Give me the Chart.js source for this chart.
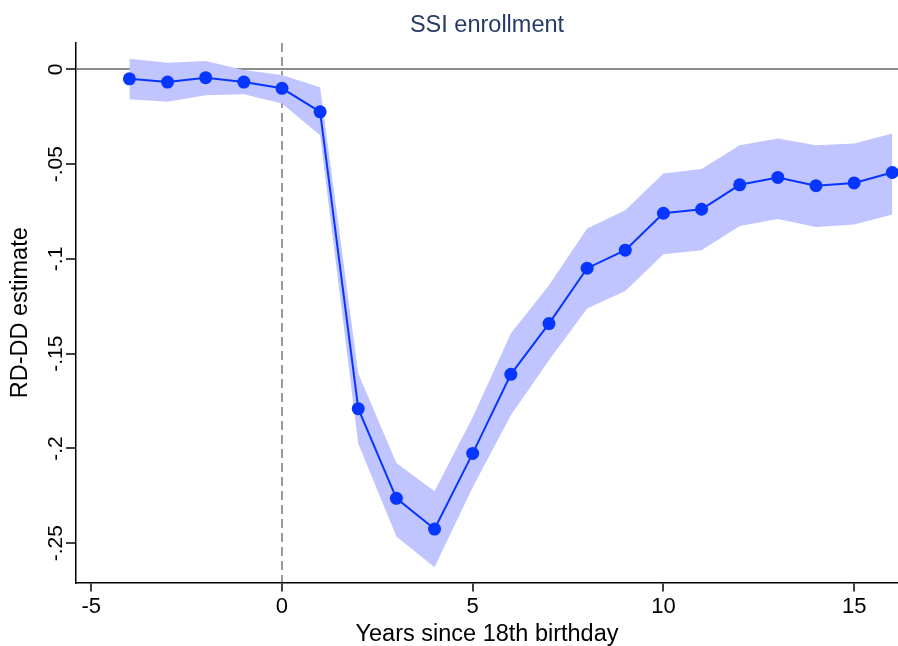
<!DOCTYPE html>
<html>
<head>
<meta charset="utf-8">
<title>SSI enrollment</title>
<script src="https://cdn.jsdelivr.net/npm/chart.js@4/dist/chart.umd.min.js"></script>
<style>
  html, body { margin: 0; padding: 0; background: #ffffff; }
  #wrap { width: 898px; height: 646px; }
</style>
</head>
<body>
<div id="wrap"><canvas id="chart" width="898" height="646"></canvas></div>
<script>
// Years relative to the 18th birthday
const years = [-4, -3, -2, -1, 0, 1, 2, 3, 4, 5, 6, 7, 8, 9, 10, 11, 12, 13, 14, 15, 16];

// RD-DD point estimates
const estimate = [-0.0050, -0.0067, -0.0044, -0.0067, -0.0100, -0.0224, -0.1790, -0.2263, -0.2425, -0.2026,
                  -0.1609, -0.1341, -0.1049, -0.0954, -0.0759, -0.0738, -0.0609, -0.0570, -0.0614, -0.0599, -0.0544];

// Confidence interval bounds
const ciUpper = [0.0056, 0.0035, 0.0044, -0.0004, -0.0030, -0.0095, -0.1605, -0.2077, -0.2225, -0.1835,
                 -0.1394, -0.1139, -0.0840, -0.0743, -0.0549, -0.0526, -0.0400, -0.0365, -0.0400, -0.0391, -0.0338];
const ciLower = [-0.0158, -0.0171, -0.0137, -0.0132, -0.0180, -0.0347, -0.1975, -0.2464, -0.2626, -0.2204,
                 -0.1825, -0.1535, -0.1262, -0.1169, -0.0975, -0.0954, -0.0827, -0.0789, -0.0831, -0.0818, -0.0766];

// Axis ticks
const xTickValues = [-5, 0, 5, 10, 15];
const xTickLabels = ['-5', '0', '5', '10', '15'];
const yTickValues = [0, -0.05, -0.1, -0.15, -0.2, -0.25];
const yTickLabels = ['0', '-.05', '-.1', '-.15', '-.2', '-.25'];

const FONT = "'Liberation Sans', Helvetica, Arial, sans-serif";
const LINE_BLUE = '#0636ff';
const BAND = '#c0c4ff';

const pts = (ys) => years.map((x, i) => ({ x: x, y: ys[i] }));

// Rotated y tick labels, placed at the scale's own tick positions
const yTickLabelPlugin = {
  id: 'yTickLabels',
  afterDraw(chart) {
    const scale = chart.scales.y;
    const ctx = chart.ctx;
    ctx.save();
    ctx.fillStyle = '#000000';
    ctx.font = '21px ' + FONT;
    ctx.textAlign = 'center';
    ctx.textBaseline = 'middle';
    yTickValues.forEach((v, i) => {
      const py = scale.getPixelForValue(v);
      ctx.save();
      ctx.translate(scale.right - 20, py);
      ctx.rotate(-Math.PI / 2);
      ctx.fillText(yTickLabels[i], 0, 0);
      ctx.restore();
    });
    ctx.restore();
  }
};

new Chart(document.getElementById('chart'), {
  type: 'line',
  data: {
    datasets: [
      {
        label: 'RD-DD estimate',
        data: pts(estimate),
        borderColor: LINE_BLUE,
        backgroundColor: LINE_BLUE,
        borderWidth: 2,
        pointRadius: 6.5,
        pointBorderWidth: 0,
        pointBackgroundColor: LINE_BLUE,
        tension: 0,
        fill: false,
        order: 0
      },
      {
        label: 'lower',
        data: pts(ciLower),
        borderWidth: 0,
        borderColor: 'rgba(0,0,0,0)',
        pointRadius: 0,
        fill: false,
        order: 2
      },
      {
        label: 'upper',
        data: pts(ciUpper),
        borderWidth: 0,
        borderColor: 'rgba(0,0,0,0)',
        backgroundColor: BAND,
        pointRadius: 0,
        fill: 1,
        order: 1
      }
    ]
  },
  options: {
    responsive: false,
    devicePixelRatio: 1,
    animation: false,
    layout: { padding: 0, autoPadding: false },
    plugins: {
      legend: { display: false },
      tooltip: { enabled: false },
      title: {
        display: true,
        text: 'SSI enrollment',
        color: '#263a66',
        fullSize: false,
        font: { family: FONT, size: 23.5, weight: 'normal', lineHeight: 1.2 },
        padding: { top: 11.5, bottom: 3.3 }
      }
    },
    scales: {
      x: {
        type: 'linear',
        min: -5.4,
        max: 16.15,
        afterBuildTicks(scale) {
          scale.ticks = xTickValues.map(v => ({ value: v }));
        },
        afterFit(scale) { scale.height = 63.5; },
        ticks: {
          color: '#000000',
          font: { family: FONT, size: 22 },
          padding: 2,
          maxRotation: 0,
          autoSkip: false,
          callback(value) {
            const i = xTickValues.indexOf(value);
            return i >= 0 ? xTickLabels[i] : '';
          }
        },
        grid: {
          drawOnChartArea: true,
          drawTicks: true,
          tickLength: 9,
          tickColor: '#000000',
          tickWidth: 1.5,
          lineWidth: 2,
          color: (c) => (c.tick && c.tick.value === 0 ? '#9a9a9a' : 'rgba(0,0,0,0)')
        },
        border: { display: true, color: '#000000', width: 1.5, dash: [9, 5] },
        title: {
          display: true,
          text: 'Years since 18th birthday',
          color: '#000000',
          font: { family: FONT, size: 23.5, lineHeight: 1 },
          padding: { top: 0, bottom: 0 }
        }
      },
      y: {
        type: 'linear',
        min: -0.2707,
        max: 0.0139,
        afterBuildTicks(scale) {
          scale.ticks = yTickValues.map(v => ({ value: v }));
        },
        afterFit(scale) { scale.width = 76; },
        ticks: { display: false },
        grid: {
          drawOnChartArea: true,
          drawTicks: true,
          tickLength: 10,
          tickColor: '#000000',
          tickWidth: 1.5,
          lineWidth: 2,
          color: (c) => (c.tick && c.tick.value === 0 ? '#8c8c8c' : 'rgba(0,0,0,0)')
        },
        border: { display: true, color: '#000000', width: 1.5 },
        title: {
          display: true,
          text: 'RD-DD estimate',
          color: '#000000',
          font: { family: FONT, size: 23.5, lineHeight: 1 },
          padding: { top: 9, bottom: 0 }
        }
      }
    }
  },
  plugins: [yTickLabelPlugin]
});
</script>
</body>
</html>
